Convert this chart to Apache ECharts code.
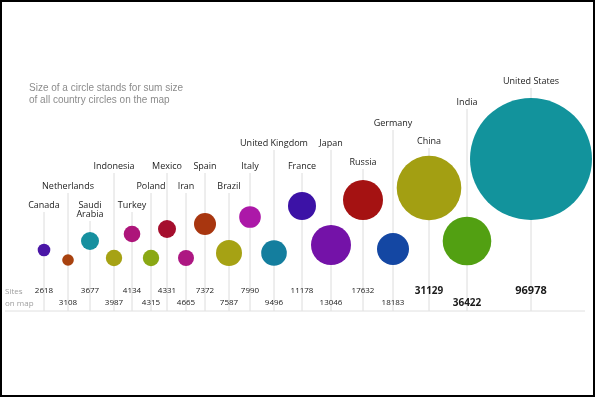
<!DOCTYPE html>
<html>
<head>
<meta charset="utf-8">
<script src="https://cdn.jsdelivr.net/npm/echarts@6/dist/echarts.min.js"></script>
<style>
  html, body { margin: 0; padding: 0; background: #fff; }
  #chart { width: 595px; height: 397px; }
</style>
</head>
<body>
<div id="chart"></div>
<script>
// countries in order of sites on map
const countries = ['Canada', 'Netherlands', 'Saudi\nArabia', 'Indonesia', 'Turkey', 'Poland', 'Mexico', 'Iran',
  'Spain', 'Brazil', 'Italy', 'United Kingdom', 'France', 'Japan', 'Russia', 'Germany', 'China', 'India', 'United States']
const sites = [2618, 3108, 3677, 3987, 4134, 4315, 4331, 4665, 7372, 7587, 7990, 9496, 11178, 13046, 17632, 18183, 31129, 36422, 96978]
// sum size of all country circles on the map (relative units, read from circle areas)
const circleSum = [40, 34, 81, 67, 69, 67, 81, 64, 121, 169, 117, 164, 196, 400, 400, 256, 1044, 590, 3721]
// layout of the original picture (axis units)
const bubbleX = [44, 68, 90, 114, 132, 151, 167, 186, 205, 229, 250, 274, 302, 331, 363, 393, 429, 467, 531]
const bubbleY = [250, 260, 241, 258, 234, 258, 229, 258, 224, 253, 217, 253, 206, 245, 200, 249, 188, 241, 159]
const labelY = [206, 187, 206, 167, 206, 187, 167, 187, 167, 187, 167, 144, 167, 144, 163, 124, 142, 103, 82]
const colors = ['#4a16a6', '#a8420f', '#16909f', '#a6a214', '#ad157a', '#8aa814', '#a50f2e', '#ad1782',
  '#a8360f', '#a6a214', '#ac18a8', '#147e9e', '#3c12a6', '#7412a8', '#a51212', '#1447a3', '#a39f12', '#52a012', '#12939c']

const baseY = 311
const rowY = [291, 303]

const chart = echarts.init(document.getElementById('chart'))

const option = {
  animation: false,
  grid: { left: 0, right: 0, top: 0, bottom: 0 },
  xAxis: { type: 'value', min: 0, max: 595, show: false },
  yAxis: { type: 'value', min: 0, max: 397, inverse: true, show: false },
  graphic: [
    {
      type: 'rect', shape: { x: 1, y: 1, width: 593, height: 395 },
      style: { fill: 'none', stroke: '#000', lineWidth: 2 }, z: 100
    },
    {
      type: 'text', left: 29, top: 82,
      style: {
        text: 'Size of a circle stands for sum size\nof all country circles on the map',
        fill: '#8c8c8c', font: '10px "Liberation Sans", Arial', lineHeight: 12
      }
    },
    {
      type: 'text', left: 5, top: 286,
      style: { text: 'Sites\non map', fill: '#a0a0a0', font: '8px "Open Sans"', lineHeight: 12 }
    }
  ],
  series: [
    {
      type: 'custom',
      z: 1,
      data: countries.map((c, i) => [bubbleX[i], labelY[i]]),
      renderItem: (params, api) => {
        const i = params.dataIndex
        const x = api.value(0)
        const ly = api.value(1)
        const lines = countries[i].split('\n').length
        const top = api.coord([x, ly + 6 + (lines - 1) * 9])
        const bottom = api.coord([x, baseY])
        const lab = api.coord([x, ly - 5])
        const vy = api.coord([x, rowY[i % 2]])
        let font = '8px "Open Sans"'
        if (sites[i] > 90000) font = 'bold 11px "Open Sans"'
        else if (sites[i] > 30000) font = 'bold 10px "Open Sans"'
        return {
          type: 'group',
          children: [
            {
              type: 'line',
              shape: { x1: top[0], y1: top[1], x2: bottom[0], y2: bottom[1] },
              style: { stroke: '#dcdcdc', lineWidth: 1 }
            },
            {
              type: 'text',
              style: {
                x: lab[0], y: lab[1], text: countries[i], align: 'center', verticalAlign: 'top',
                fill: '#222', font: '9px "Open Sans"', lineHeight: 9
              }
            },
            {
              type: 'text',
              style: {
                x: vy[0], y: vy[1], text: String(sites[i]), align: 'center', verticalAlign: 'middle',
                fill: '#1a1a1a', font: font
              }
            }
          ]
        }
      }
    },
    {
      type: 'line',
      z: 1,
      symbol: 'none',
      data: [[5, baseY], [585, baseY]],
      lineStyle: { color: '#e0e0e0', width: 1 }
    },
    {
      type: 'scatter',
      z: 3,
      data: bubbleX.map((x, i) => ({
        value: [x, bubbleY[i], circleSum[i]],
        itemStyle: { color: colors[i] }
      })),
      symbolSize: (val) => 2 * Math.sqrt(val[2]),
      itemStyle: { opacity: 1 }
    }
  ]
}

chart.setOption(option)
</script>
</body>
</html>
